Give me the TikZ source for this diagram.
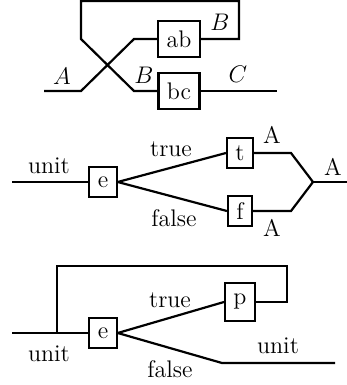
\documentclass[tikz,border=0pt]{standalone}
\usepackage{tikz}

\tikzset{box/.style={draw,fill=white,inner xsep=4.2pt,inner ysep=0pt,minimum height=15pt},
         tallbox/.style={box,minimum height=18pt}}

\begin{document}
\begin{tikzpicture}[x=0.5pt,y=-0.5pt,line width=1.1pt,font=\large]
\useasboundingbox (0,0) rectangle (347,385);
%Crossing with feedback
\node[tallbox] (ab) at (179,39) {ab};
\node[tallbox] (bc) at (179,91) {bc};
\coordinate (inA) at (44,91);
\coordinate (outC) at (277,91);
\draw (inA) -- (81,91) -- (134,39) -- (ab.west);
\draw (bc.west) -- (134,91) -- (81,39) -- (81,1) -- (239,1) -- (239,39) -- (ab.east);
\draw (bc.east) -- (outC);
%labels
\node (labA) at (62,76) {$A$};
\node (labB1) at (144,75) {$B$};
\node (labC) at (238,74) {$C$};
\node (labB2) at (220,22) {$B$};

%Branch and merge
\node[box] (e1) at (103,182) {e};
\node[box] (t) at (240,153) {t};
\node[box] (f) at (240,211) {f};
\coordinate (in1) at (12,182);
\coordinate (merge) at (313,182);
\coordinate (out1) at (347,182);
\draw (in1) -- (e1.west);
\draw (e1.east) -- (t.west);
\draw (e1.east) -- (f.west);
\draw (t.east) -- (291,153) -- (merge);
\draw (f.east) -- (291,211) -- (merge);
\draw (merge) -- (out1);
%labels
\node (unit1) at (49,166) {unit};
\node (true1) at (171,149) {true};
\node (false1) at (174,218) {false};
\node (At) at (272,135) {A};
\node (Aout) at (333,167) {A};
\node (Af) at (272,228) {A};

%Loop
\node[box] (e2) at (103,333) {e};
\node[box,minimum height=19pt] (p) at (240,302) {p};
\coordinate (in2) at (12,333);
\coordinate (join) at (57,333);
\coordinate (bend) at (222,363);
\coordinate (out2) at (335,363);
\draw (in2) -- (e2.west);
\draw (join) -- (57,266) -- (287,266) -- (287,302) -- (p.east);
\draw (e2.east) -- (p.west);
\draw (e2.east) -- (bend) -- (out2);
%labels
\node (unit2) at (49,354) {unit};
\node (true2) at (170,300) {true};
\node (false2) at (170,369) {false};
\node (unit3) at (278,346) {unit};
\end{tikzpicture}
\end{document}
